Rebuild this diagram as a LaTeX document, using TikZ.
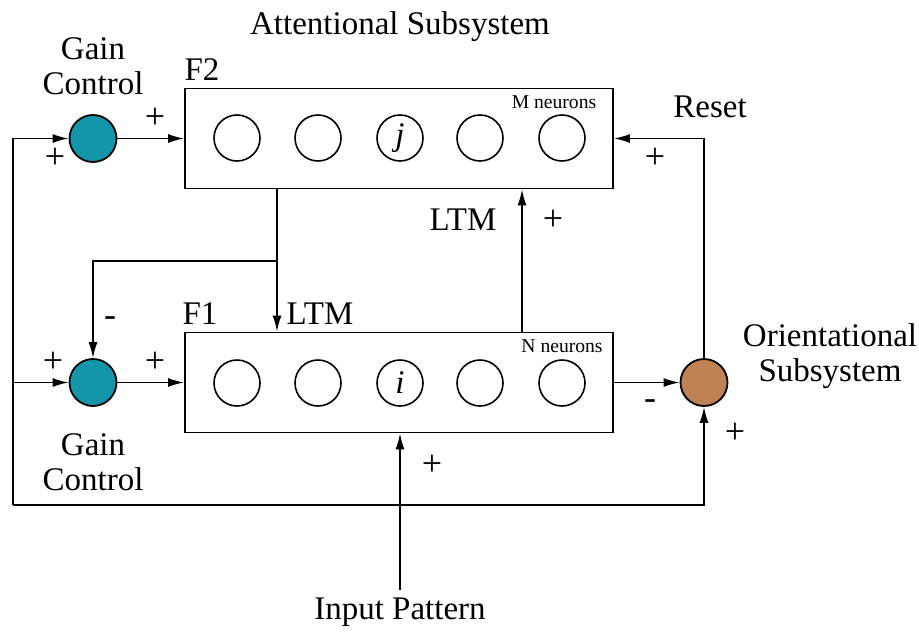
\documentclass[tikz,border=0pt]{standalone}
\usepackage{fontspec}
\setmainfont{Liberation Serif}
\usetikzlibrary{arrows.meta}
\definecolor{gaincol}{RGB}{20,150,170}
\definecolor{orientcol}{RGB}{190,130,85}
\begin{document}
\begin{tikzpicture}[x=0.5pt,y=-0.5pt,
  lbl/.style={font=\fontsize{16.5}{17.5}\selectfont, inner sep=0pt, align=center},
  small/.style={font=\fontsize{9.8}{11}\selectfont, inner sep=0pt},
  sign/.style={font=\fontsize{18}{20}\selectfont, inner sep=0pt},
  layerbox/.style={draw, line width=0.9pt, minimum width=214pt, minimum height=50pt, inner sep=0pt},
  neuron/.style={draw, circle, line width=0.8pt, minimum size=23pt, inner sep=0pt, font=\fontsize{16.5}{19}\selectfont\itshape},
  unit/.style={draw, circle, line width=0.9pt, minimum size=23.5pt, inner sep=0pt},
  conn/.style={line width=0.8pt},
  arr/.style={conn, -{Latex[length=8pt,width=4.5pt]}}
]
\useasboundingbox (0,0) rectangle (919,631);

% layers
\node[layerbox] (F2) at (399,138.5) {};
\node[layerbox] (F1) at (399,382.5) {};

\foreach \x [count=\k] in {237,318,400,480,562} {
  \node[neuron] (m\k) at (\x,138) {};
  \node[neuron] (n\k) at (\x,383) {};
}
\node[inner sep=0pt, font=\fontsize{16.5}{19}\selectfont\itshape] at (m3) {j};
\node[inner sep=0pt, font=\fontsize{16.5}{19}\selectfont\itshape] at (n3) {i};

\node[small] (mlab) at (554,102) {M neurons};
\node[small] (nlab) at (562,346) {N neurons};

% gain control and orienting units
\node[unit, fill=gaincol] (g2) at (93,138.5) {};
\node[unit, fill=gaincol] (g1) at (93,382.5) {};
\node[unit, fill=orientcol] (oc) at (704,382.5) {};

% coordinates
\coordinate (lb) at (13,505);
\coordinate (lt) at (13,138.5);
\coordinate (lm) at (13,382.5);
\coordinate (dx) at (277,0);
\coordinate (br) at (277,261);
\coordinate (ux) at (522,0);
\coordinate (inp) at (400,590);

% connectors
\draw[arr] (lb) -- (lt) -- (g2.west);
\draw[arr] (lm) -- (g1.west);
\draw[arr] (lb) -| (oc.south);
\draw[arr] (g2.east) -- (g2.east -| F2.west);
\draw[arr] (g1.east) -- (g1.east -| F1.west);
\draw[arr] (F2.south -| dx) -- (F1.north -| dx);
\draw[arr] (br) -| (g1.north);
\draw[arr] (F1.north -| ux) -- (F2.south -| ux);
\draw[arr] (F1.east) -- (oc.west);
\draw[arr] (oc.north) |- (F2.east);
\draw[arr] (inp) -- (inp |- F1.south);

% labels
\node[lbl] (att) at (400,27) {Attentional Subsystem};
\node[lbl] (gctop) at (93,66) {Gain\\Control};
\node[lbl] (gcbot) at (93,462) {Gain\\Control};
\node[lbl] (f2lab) at (202,70) {F2};
\node[lbl] (f1lab) at (200,314) {F1};
\node[lbl] (ltm1) at (320,314) {LTM};
\node[lbl] (ltm2) at (463,220) {LTM};
\node[lbl] (reset) at (710,107) {Reset};
\node[lbl] (orient) at (830,356) {Orientational\\Subsystem};
\node[lbl] (input) at (400,612) {Input Pattern};

% signs
\node[sign] at (155,118) {+};
\node[sign] at (55,158) {+};
\node[sign] at (53,362) {+};
\node[sign] at (155,362) {+};
\node[sign] at (110,322) {-};
\node[sign] at (553,220) {+};
\node[sign] at (655,158) {+};
\node[sign] at (650,405) {-};
\node[sign] at (735,433) {+};
\node[sign] at (432,465) {+};
\end{tikzpicture}
\end{document}
